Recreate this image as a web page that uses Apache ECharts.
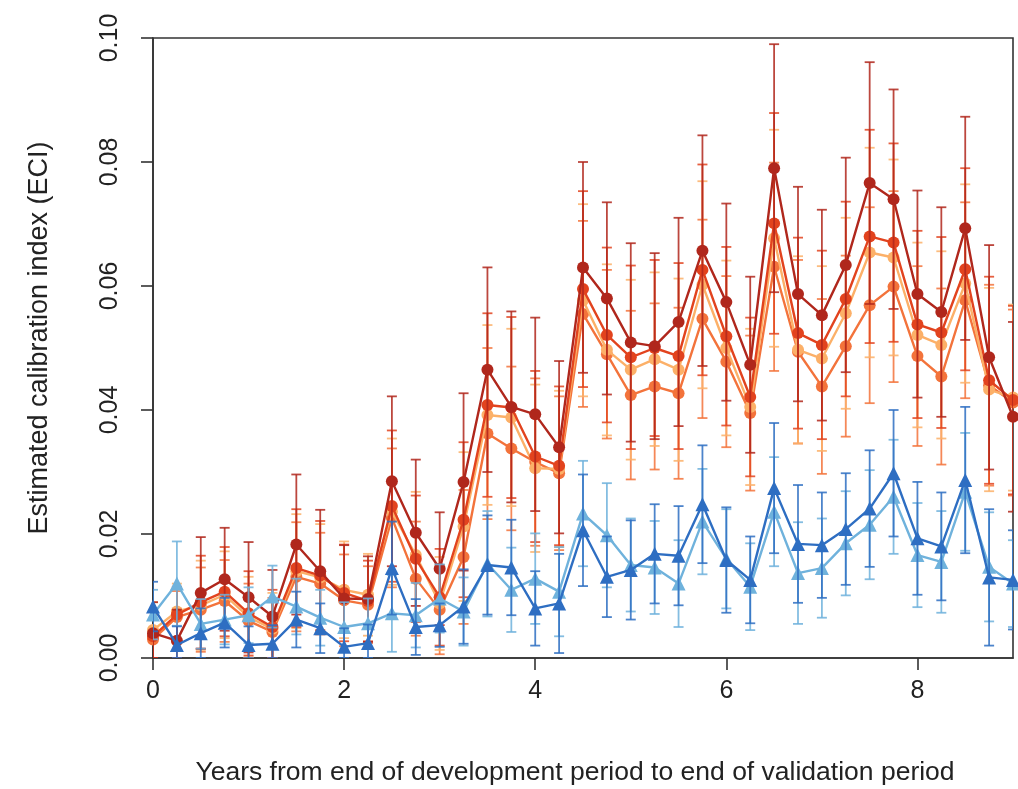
<!DOCTYPE html>
<html>
<head>
<meta charset="utf-8">
<script src="https://cdn.jsdelivr.net/npm/echarts@6/dist/echarts.min.js"></script>
<style>
html,body{margin:0;padding:0;background:#fff;}
#chart{width:1018px;height:789px;}
</style>
</head>
<body>
<div id="chart"></div>
<script>
// ---- data ----
const years = [0,0.25,0.5,0.75,1,1.25,1.5,1.75,2,2.25,2.5,2.75,3,3.25,3.5,3.75,4,4.25,4.5,4.75,5,5.25,5.5,5.75,6,6.25,6.5,6.75,7,7.25,7.5,7.75,8,8.25,8.5,8.75,9];
const xTicks = [0,2,4,6,8];
const yTicks = [0,0.02,0.04,0.06,0.08,0.10];

const darkRed = [0.0040,0.0028,0.0105,0.0127,0.0098,0.0067,0.0183,0.0140,0.0096,0.0095,0.0285,0.0202,0.0144,0.0284,0.0465,0.0405,0.0393,0.0340,0.0630,0.0580,0.0509,0.0503,0.0542,0.0657,0.0574,0.0473,0.0790,0.0587,0.0553,0.0634,0.0766,0.0740,0.0587,0.0558,0.0693,0.0485,0.0389];
const red = [0.0035,0.0070,0.0090,0.0107,0.0072,0.0050,0.0145,0.0133,0.0105,0.0092,0.0245,0.0160,0.0098,0.0223,0.0408,0.0404,0.0325,0.0310,0.0595,0.0521,0.0485,0.0500,0.0487,0.0626,0.0519,0.0421,0.0701,0.0524,0.0505,0.0579,0.0680,0.0670,0.0538,0.0525,0.0627,0.0448,0.0416];
const lightOrange = [0.0045,0.0075,0.0085,0.0102,0.0066,0.0047,0.0140,0.0130,0.0110,0.0102,0.0236,0.0166,0.0088,0.0212,0.0392,0.0388,0.0306,0.0305,0.0577,0.0497,0.0465,0.0482,0.0465,0.0602,0.0500,0.0405,0.0677,0.0497,0.0483,0.0556,0.0654,0.0646,0.0521,0.0505,0.0604,0.0433,0.0420];
const orange = [0.0030,0.0066,0.0078,0.0092,0.0060,0.0042,0.0131,0.0120,0.0093,0.0086,0.0226,0.0128,0.0078,0.0163,0.0362,0.0338,0.0316,0.0298,0.0555,0.0490,0.0424,0.0438,0.0427,0.0547,0.0478,0.0395,0.0631,0.0494,0.0438,0.0503,0.0569,0.0599,0.0487,0.0454,0.0577,0.0440,0.0412];
const darkBlue = [0.0083,0.0021,0.0040,0.0057,0.0021,0.0023,0.0062,0.0048,0.0018,0.0024,0.0145,0.0050,0.0053,0.0083,0.0150,0.0146,0.0080,0.0088,0.0206,0.0131,0.0142,0.0168,0.0165,0.0248,0.0158,0.0126,0.0274,0.0184,0.0182,0.0208,0.0241,0.0298,0.0193,0.0180,0.0287,0.0130,0.0126];
const lightBlue = [0.0070,0.0120,0.0055,0.0062,0.0069,0.0099,0.0083,0.0065,0.0050,0.0056,0.0072,0.0069,0.0096,0.0075,0.0152,0.0110,0.0128,0.0107,0.0233,0.0198,0.0150,0.0146,0.0120,0.0220,0.0160,0.0115,0.0236,0.0137,0.0145,0.0185,0.0215,0.0260,0.0166,0.0155,0.0268,0.0147,0.0120];

// error-bar half widths
const errDarkRed = [0.005,0.005,0.009,0.0083,0.0089,0.0075,0.0113,0.0099,0.0086,0.0069,0.0137,0.0118,0.0091,0.0143,0.0165,0.0154,0.0156,0.0139,0.017,0.0155,0.016,0.015,0.0168,0.0186,0.0159,0.0142,0.020,0.0173,0.017,0.0173,0.0195,0.0177,0.0167,0.0169,0.018,0.0181,0.0153];
const errRed = [0.0045,0.0045,0.0075,0.0072,0.0068,0.006,0.0095,0.0088,0.0078,0.0065,0.0122,0.0102,0.0078,0.0125,0.0148,0.0146,0.0138,0.0128,0.0158,0.0141,0.0148,0.0142,0.015,0.017,0.0144,0.0128,0.0178,0.0154,0.0152,0.0157,0.0172,0.016,0.0151,0.0154,0.0163,0.0167,0.0152];
const errLightOrange = [0.0045,0.0045,0.0072,0.007,0.0065,0.0058,0.0092,0.0086,0.0078,0.0066,0.0118,0.0102,0.0075,0.012,0.0145,0.0143,0.0135,0.0126,0.0155,0.0138,0.0145,0.014,0.0147,0.0167,0.0141,0.0126,0.0175,0.0151,0.0149,0.0154,0.0169,0.0158,0.0149,0.0151,0.016,0.0164,0.015];
const errOrange = [0.004,0.0042,0.0068,0.0066,0.006,0.0055,0.0088,0.0082,0.0074,0.0062,0.0112,0.0092,0.0072,0.0108,0.0138,0.0132,0.0135,0.0124,0.015,0.0136,0.0136,0.0134,0.0138,0.016,0.0138,0.0125,0.0168,0.0148,0.0141,0.0146,0.0158,0.0154,0.0145,0.0142,0.0158,0.0162,0.015];
const errDarkBlue = [0.004,0.003,0.004,0.004,0.003,0.003,0.0045,0.004,0.003,0.003,0.0075,0.0045,0.0035,0.006,0.008,0.0077,0.006,0.008,0.009,0.0065,0.008,0.008,0.008,0.0095,0.0085,0.007,0.0105,0.0095,0.0085,0.009,0.0094,0.0102,0.0091,0.0087,0.0118,0.011,0.008];
const errLightBlue = [0.004,0.0068,0.004,0.004,0.0045,0.005,0.0045,0.0045,0.004,0.004,0.0062,0.0052,0.0055,0.0055,0.0085,0.0068,0.0073,0.0072,0.0085,0.0084,0.0075,0.0075,0.007,0.0085,0.008,0.007,0.0088,0.0082,0.008,0.0084,0.0088,0.0092,0.0084,0.0082,0.0095,0.0088,0.007];

// ---- chart ----
const groups = [
  {name:'orange', vals:orange, err:errOrange, color:'#f3733b', symbol:'circle', size:12},
  {name:'lightOrange', vals:lightOrange, err:errLightOrange, color:'#fcb068', symbol:'circle', size:12},
  {name:'red', vals:red, err:errRed, color:'#e2431e', symbol:'circle', size:12},
  {name:'darkRed', vals:darkRed, err:errDarkRed, color:'#b0271c', symbol:'circle', size:12},
  {name:'lightBlue', vals:lightBlue, err:errLightBlue, color:'#6fb2dc', symbol:'triangle', size:14},
  {name:'darkBlue', vals:darkBlue, err:errDarkBlue, color:'#2e6ec2', symbol:'triangle', size:14}
];

function makeErr(color){
  return function(params, api){
    const x = api.value(0), lo = api.value(1), hi = api.value(2);
    const p1 = api.coord([x, hi]);
    const p2 = api.coord([x, lo]);
    const w = 5;
    const st = {stroke: color, lineWidth: 1.8, opacity: 0.85};
    return {type:'group', children:[
      {type:'line', shape:{x1:p1[0], y1:p1[1], x2:p2[0], y2:p2[1]}, style:st},
      {type:'line', shape:{x1:p1[0]-w, y1:p1[1], x2:p1[0]+w, y2:p1[1]}, style:st},
      {type:'line', shape:{x1:p2[0]-w, y1:p2[1], x2:p2[0]+w, y2:p2[1]}, style:st}
    ]};
  };
}

const series = [];
groups.forEach(function(g, gi){
  series.push({
    type:'custom', name:g.name+'-err', renderItem: makeErr(g.color), clip:true,
    data: years.map(function(x,i){ return [x, Math.max(0, g.vals[i]-g.err[i]), Math.min(0.1, g.vals[i]+g.err[i])]; }),
    z: 2 + gi*2, silent:true
  });
  series.push({
    type:'line', name:g.name,
    data: years.map(function(x,i){ return [x, g.vals[i]]; }),
    symbol:g.symbol, symbolSize:g.size, showAllSymbol:true,
    lineStyle:{color:g.color, width:2.4},
    itemStyle:{color:g.color},
    z: 3 + gi*2, animation:false, clip:true
  });
});

const chart = echarts.init(document.getElementById('chart'), null, {renderer:'canvas'});
const FONT = '"Liberation Sans", Arial, Helvetica, sans-serif';
chart.setOption({
  animation:false,
  backgroundColor:'#fff',
  grid:{left:153, right:5, top:38, bottom:131, show:true, borderColor:'#333', borderWidth:1.6, backgroundColor:'transparent'},
  xAxis:{
    type:'value', min:0, max:9,
    axisLine:{show:true, lineStyle:{color:'#333', width:1.6}},
    axisTick:{show:true, length:12, customValues:xTicks, lineStyle:{color:'#333', width:1.6}},
    axisLabel:{customValues:xTicks, margin:21, fontSize:25, color:'#222', fontFamily:FONT},
    splitLine:{show:false}
  },
  yAxis:{
    type:'value', min:0, max:0.1,
    axisLine:{show:true, lineStyle:{color:'#333', width:1.6}},
    axisTick:{show:true, length:12, customValues:yTicks, lineStyle:{color:'#333', width:1.6}},
    axisLabel:{customValues:yTicks, rotate:90, margin:30, fontSize:25, color:'#222', fontFamily:FONT,
      formatter:function(v){ return v.toFixed(2); }},
    splitLine:{show:false}
  },
  graphic:[
    {type:'text', x:40, y:338, rotation:Math.PI/2,
      style:{text:'Estimated calibration index (ECI)', font:'27px '+FONT, fill:'#222', align:'center', verticalAlign:'middle'}},
    {type:'text', x:575, y:773,
      style:{text:'Years from end of development period to end of validation period', font:'26.5px '+FONT, fill:'#222', align:'center', verticalAlign:'middle'}}
  ],
  series: series
});
</script>
</body>
</html>
